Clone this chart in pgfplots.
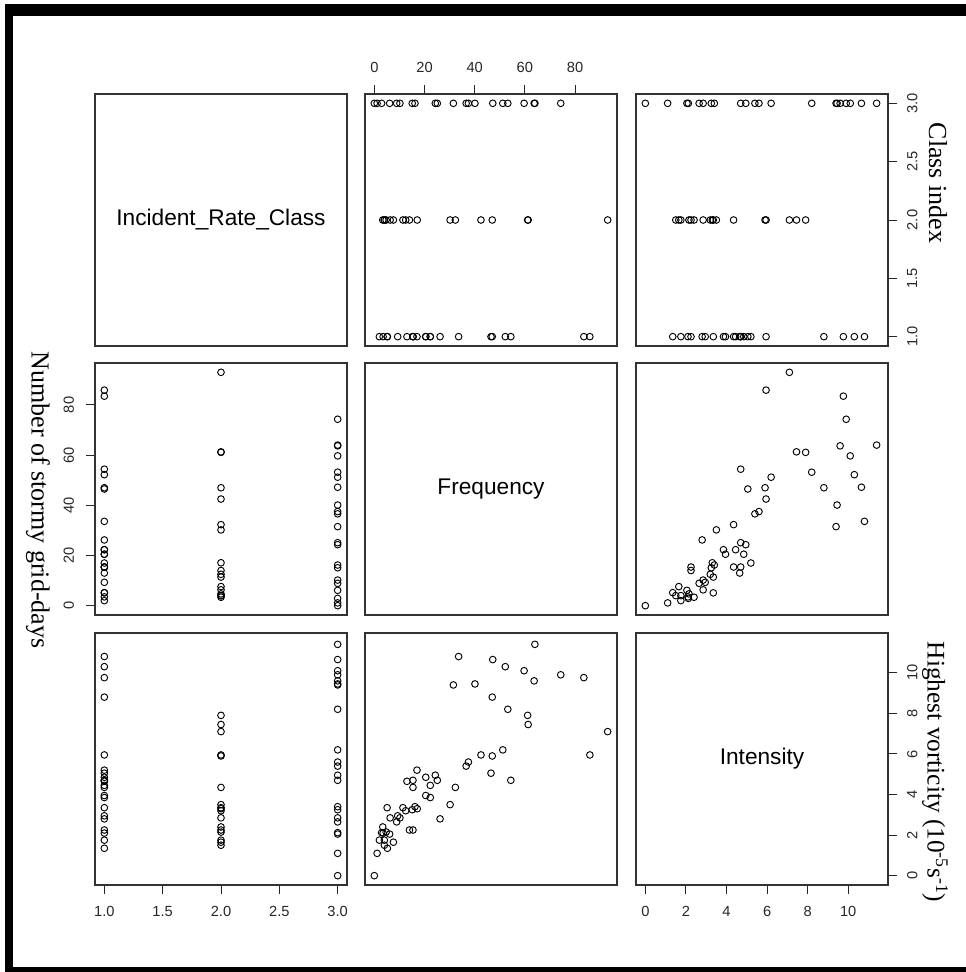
\documentclass[border=0pt]{standalone}
\usepackage{fontspec}
\setmainfont{Liberation Serif}
\newfontfamily\arial{Liberation Sans}
\usepackage{pgfplots}
\usepackage{pgfplotstable}
\pgfplotsset{compat=1.18}

\pgfplotstableread{
class freq inten
3 64.0 11.4
3 47.2 10.65
3 59.7 10.1
3 74.3 9.9
3 63.7 9.6
3 40.1 9.45
3 31.5 9.4
3 53.2 8.2
3 51.2 6.2
3 37.5 5.6
3 36.6 5.4
3 24.3 4.95
3 25.1 4.7
3 16.2 3.4
3 15.1 3.25
3 10.2 2.85
3 8.9 2.65
3 6.1 2.05
3 2.9 2.12
3 1.1 1.1
3 0.0 0.0
1 33.6 10.8
1 52.2 10.3
1 83.5 9.76
1 47.0 8.8
1 85.9 5.95
1 46.5 5.05
1 54.4 4.7
1 17.0 5.2
1 20.5 4.85
1 13.0 4.65
1 15.4 4.7
1 22.3 4.45
1 15.4 4.35
1 20.5 3.95
1 22.3 3.85
1 26.2 2.8
1 9.3 2.95
1 5.1 3.35
1 15.4 2.25
1 3.5 2.1
1 2.0 1.75
1 5.2 1.35
2 61.1 7.9
2 61.3 7.45
2 93.0 7.1
2 47.0 5.9
2 42.5 5.95
2 32.3 4.35
2 30.2 3.5
2 11.4 3.35
2 17.1 3.3
2 12.5 3.2
2 14.0 2.25
2 6.3 2.85
2 3.35 2.4
2 4.7 2.15
2 4.0 1.75
2 7.6 1.65
2 4.0 1.5
}\storms

\pgfplotsset{
  panel/.style={
    scale only axis, width=189pt, height=189pt, anchor=north west,
    axis line style={black!80, line width=0.8pt},
    tick style={black!85, line width=0.7pt},
    major tick length=6.75pt, tick align=outside,
    xtick=\empty, ytick=\empty,
    tick label style={font=\arial\fontsize{11}{13}\selectfont, text=black!85},
    /pgf/number format/assume math mode=true,
  },
  classx/.style={xmin=0.92, xmax=3.08},
  classy/.style={ymin=0.92, ymax=3.08},
  freqx/.style={xmin=-3.72, xmax=96.72},
  freqy/.style={ymin=-3.72, ymax=96.72},
  intx/.style={xmin=-0.46, xmax=11.96},
  inty/.style={ymin=-0.46, ymax=11.96},
  pts/.style={only marks, mark=o, mark size=2.5pt, black, mark options={line width=0.7pt}},
  classfmt/.style={/pgf/number format/fixed, /pgf/number format/fixed zerofill, /pgf/number format/precision=1},
}

\begin{document}
\begin{tikzpicture}
\useasboundingbox (0,0) rectangle (724.5pt,729pt);
% outer frame
\fill[black] (3.75pt,0pt) rectangle (9.75pt,726pt);
\fill[black] (3.75pt,717pt) rectangle (724.5pt,726pt);
\fill[black] (3.75pt,0pt) rectangle (724.5pt,3.75pt);

% ---------- row 1 ----------
\begin{axis}[panel, classx, classy, at={(71.25pt,658.5pt)}]
\node[font=\arial\fontsize{17}{20}\selectfont] at (rel axis cs:0.5,0.5) {Incident\_Rate\_Class};
\end{axis}

\begin{axis}[panel, freqx, classy, at={(273.75pt,658.5pt)},
  xtick={0,20,40,60,80}, xtick pos=top, xticklabel pos=top, xticklabel shift=5.5pt]
\addplot[pts] table[x=freq, y=class] {\storms};
\end{axis}

\begin{axis}[panel, intx, classy, at={(477pt,658.5pt)},
  ytick={1,1.5,2,2.5,3}, ytick pos=right, yticklabel pos=right, classfmt,
  yticklabel style={rotate=90, anchor=north}, yticklabel shift=4pt]
\addplot[pts] table[x=inten, y=class] {\storms};
\end{axis}

% ---------- row 2 ----------
\begin{axis}[panel, classx, freqy, at={(71.25pt,456.75pt)},
  ytick={0,20,40,60,80}, ytick pos=left, yticklabel pos=left,
  yticklabel style={rotate=90, anchor=south}, yticklabel shift=5.5pt]
\addplot[pts] table[x=class, y=freq] {\storms};
\end{axis}

\begin{axis}[panel, freqx, freqy, at={(273.75pt,456.75pt)}]
\node[font=\arial\fontsize{17}{20}\selectfont] at (rel axis cs:0.5,0.5) {Frequency};
\end{axis}

\begin{axis}[panel, intx, freqy, at={(477pt,456.75pt)}]
\addplot[pts] table[x=inten, y=freq] {\storms};
\end{axis}

% ---------- row 3 ----------
\begin{axis}[panel, classx, inty, at={(71.25pt,254.25pt)},
  xtick={1,1.5,2,2.5,3}, xtick pos=bottom, xticklabel pos=bottom, classfmt,
  xticklabel shift=5.5pt]
\addplot[pts] table[x=class, y=inten] {\storms};
\end{axis}

\begin{axis}[panel, freqx, inty, at={(273.75pt,254.25pt)}]
\addplot[pts] table[x=freq, y=inten] {\storms};
\end{axis}

\begin{axis}[panel, intx, inty, at={(477pt,254.25pt)},
  xtick={0,2,4,6,8,10}, xtick pos=bottom, xticklabel pos=bottom, xticklabel shift=5.5pt,
  ytick={0,2,4,6,8,10}, ytick pos=right, yticklabel pos=right,
  yticklabel style={rotate=90, anchor=north}, yticklabel shift=4pt]
\node[font=\arial\fontsize{17}{20}\selectfont] at (rel axis cs:0.5,0.5) {Intensity};
\end{axis}

% side titles
\node[rotate=-90, font=\fontsize{19.5}{23}\selectfont] at (28.5pt,354pt) {Number of stormy grid-days};
\node[rotate=-90, font=\fontsize{19.5}{23}\selectfont] at (703.5pt,591.75pt) {Class index};
\node[rotate=-90, font=\fontsize{19}{23}\selectfont] at (701.25pt,150pt) {Highest vorticity (10\textsuperscript{-5}s\textsuperscript{-1})};
\end{tikzpicture}
\end{document}
